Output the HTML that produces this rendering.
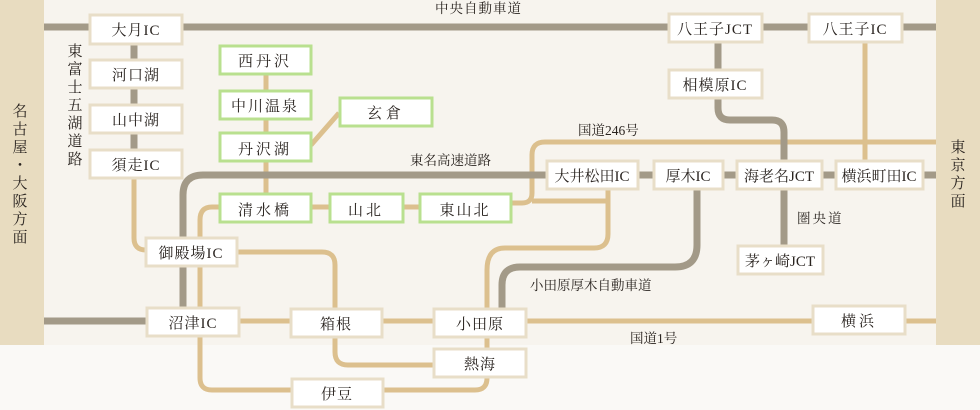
<!DOCTYPE html>
<html><head><meta charset="utf-8"><style>
body{margin:0;background:#f7f4ee}
svg{display:block}
text{font-family:"Liberation Serif","Noto Serif CJK SC",serif;fill:#2a2420}
</style></head><body>
<svg width="980" height="410" xmlns="http://www.w3.org/2000/svg">
<rect width="980" height="410" fill="#f7f4ee"/>
<rect y="345" width="980" height="65" fill="#faf9f6"/>
<rect x="0" y="0" width="44" height="345" fill="#e8dcc0"/>
<rect x="936" y="0" width="44" height="345" fill="#e8dcc0"/>
<g fill="none" stroke-linecap="butt">
<g stroke="#dcc08e" stroke-width="5">
<path d="M266 74V193"/>
<path d="M311 145L339 113"/>
<path d="M134 178V238Q134 250 146 250"/>
<path d="M237 252H322Q335 252 335 265V352Q335 365 348 365H433"/>
<path d="M219 207H212Q200 207 200 220V378Q200 390 212 390H475Q487 390 487 378V370"/>
<path d="M239 321H936"/>
<path d="M487 308V270Q487 248 505 248H594Q608 248 608 234V189"/>
<path d="M487 337V348"/>
<path d="M311 207H329M403 207H419"/>
<path d="M511 203H522Q532 203 532 193V155Q532 142 545 142H936"/>
<path d="M532 201H608"/>
<path d="M865 42V160"/>
</g>
<g stroke="#a39a88" stroke-width="7">
<path d="M44 27H936"/>
<path d="M134 44V150"/>
<path d="M44 321H147"/>
<path d="M183 320V195Q183 175 203 175H936"/>
<path d="M697 189V245Q697 267 675 267H520Q502 267 502 285V308"/>
<path d="M718 42V69M718 98V108Q718 120 730 120H772Q784 120 784 132V160M784 189V245"/>
</g>
</g>
<g stroke-width="3">
<g fill="#fff" stroke="#e8dec8">
<rect x="90" y="15" width="92" height="29"/>
<rect x="90" y="60" width="92" height="28"/>
<rect x="90" y="105" width="92" height="28"/>
<rect x="90" y="150" width="92" height="28"/>
<rect x="146" y="238" width="91" height="28"/>
<rect x="147" y="308" width="92" height="28"/>
<rect x="291" y="309" width="91" height="28"/>
<rect x="434" y="309" width="92" height="28"/>
<rect x="434" y="349" width="92" height="28"/>
<rect x="292" y="379" width="91" height="28"/>
<rect x="669" y="14" width="93" height="28"/>
<rect x="809" y="14" width="93" height="28"/>
<rect x="669" y="70" width="93" height="28"/>
<rect x="547" y="161" width="91" height="28"/>
<rect x="654" y="161" width="69" height="28"/>
<rect x="737" y="161" width="85" height="28"/>
<rect x="836" y="161" width="87" height="28"/>
<rect x="738" y="246" width="85" height="28"/>
<rect x="813" y="306" width="92" height="28"/>
</g>
<g fill="#fff" stroke="#b9e08f">
<rect x="220" y="46" width="91" height="28"/>
<rect x="220" y="91" width="91" height="28"/>
<rect x="220" y="133" width="91" height="28"/>
<rect x="340" y="98" width="92" height="28"/>
<rect x="220" y="194" width="91" height="28"/>
<rect x="330" y="194" width="73" height="28"/>
<rect x="420" y="194" width="91" height="28"/>
</g>
</g>
<g font-size="15" text-anchor="middle" letter-spacing="1">
<text x="136" y="35">大月IC</text>
<text x="136" y="80">河口湖</text>
<text x="136" y="125">山中湖</text>
<text x="136" y="170">須走IC</text>
<text x="191" y="258">御殿場IC</text>
<text x="193" y="328">沼津IC</text>
<text x="336" y="329">箱根</text>
<text x="480" y="329">小田原</text>
<text x="480" y="369">熱海</text>
<text x="337" y="399">伊豆</text>
<text x="715" y="34">八王子JCT</text>
<text x="855" y="34">八王子IC</text>
<text x="715" y="90">相模原IC</text>
<text x="592" y="181" letter-spacing="0">大井松田IC</text>
<text x="688" y="181" letter-spacing="0">厚木IC</text>
<text x="779" y="181" letter-spacing="0">海老名JCT</text>
<text x="879" y="181" letter-spacing="0">横浜町田IC</text>
<text x="780" y="266" letter-spacing="0">茅ヶ崎JCT</text>
<text x="859" y="326" letter-spacing="3">横浜</text>
<text x="265" y="66" letter-spacing="3">西丹沢</text>
<text x="265" y="111" letter-spacing="2">中川温泉</text>
<text x="265" y="154" letter-spacing="3">丹沢湖</text>
<text x="386" y="118" letter-spacing="4">玄倉</text>
<text x="265" y="215" letter-spacing="3">清水橋</text>
<text x="366" y="215" letter-spacing="3">山北</text>
<text x="465" y="215" letter-spacing="2">東山北</text>
</g>
<g font-size="13.5">
<text x="435" y="13" letter-spacing="1">中央自動車道</text>
<text x="410" y="165">東名高速道路</text>
<text x="578" y="135">国道246号</text>
<text x="797" y="223" letter-spacing="2">圏央道</text>
<text x="530" y="290">小田原厚木自動車道</text>
<text x="630" y="343">国道1号</text>
</g>
<g font-size="15" text-anchor="middle">
<text x="75" y="56">東</text><text x="75" y="74">富</text><text x="75" y="92">士</text><text x="75" y="110">五</text><text x="75" y="128">湖</text><text x="75" y="146">道</text><text x="75" y="164">路</text>
<text x="20" y="116">名</text><text x="20" y="134">古</text><text x="20" y="152">屋</text><text x="20" y="170">・</text><text x="20" y="188">大</text><text x="20" y="206">阪</text><text x="20" y="224">方</text><text x="20" y="242">面</text>
<text x="958" y="152">東</text><text x="958" y="170">京</text><text x="958" y="188">方</text><text x="958" y="206">面</text>
</g>
</svg>
</body></html>
